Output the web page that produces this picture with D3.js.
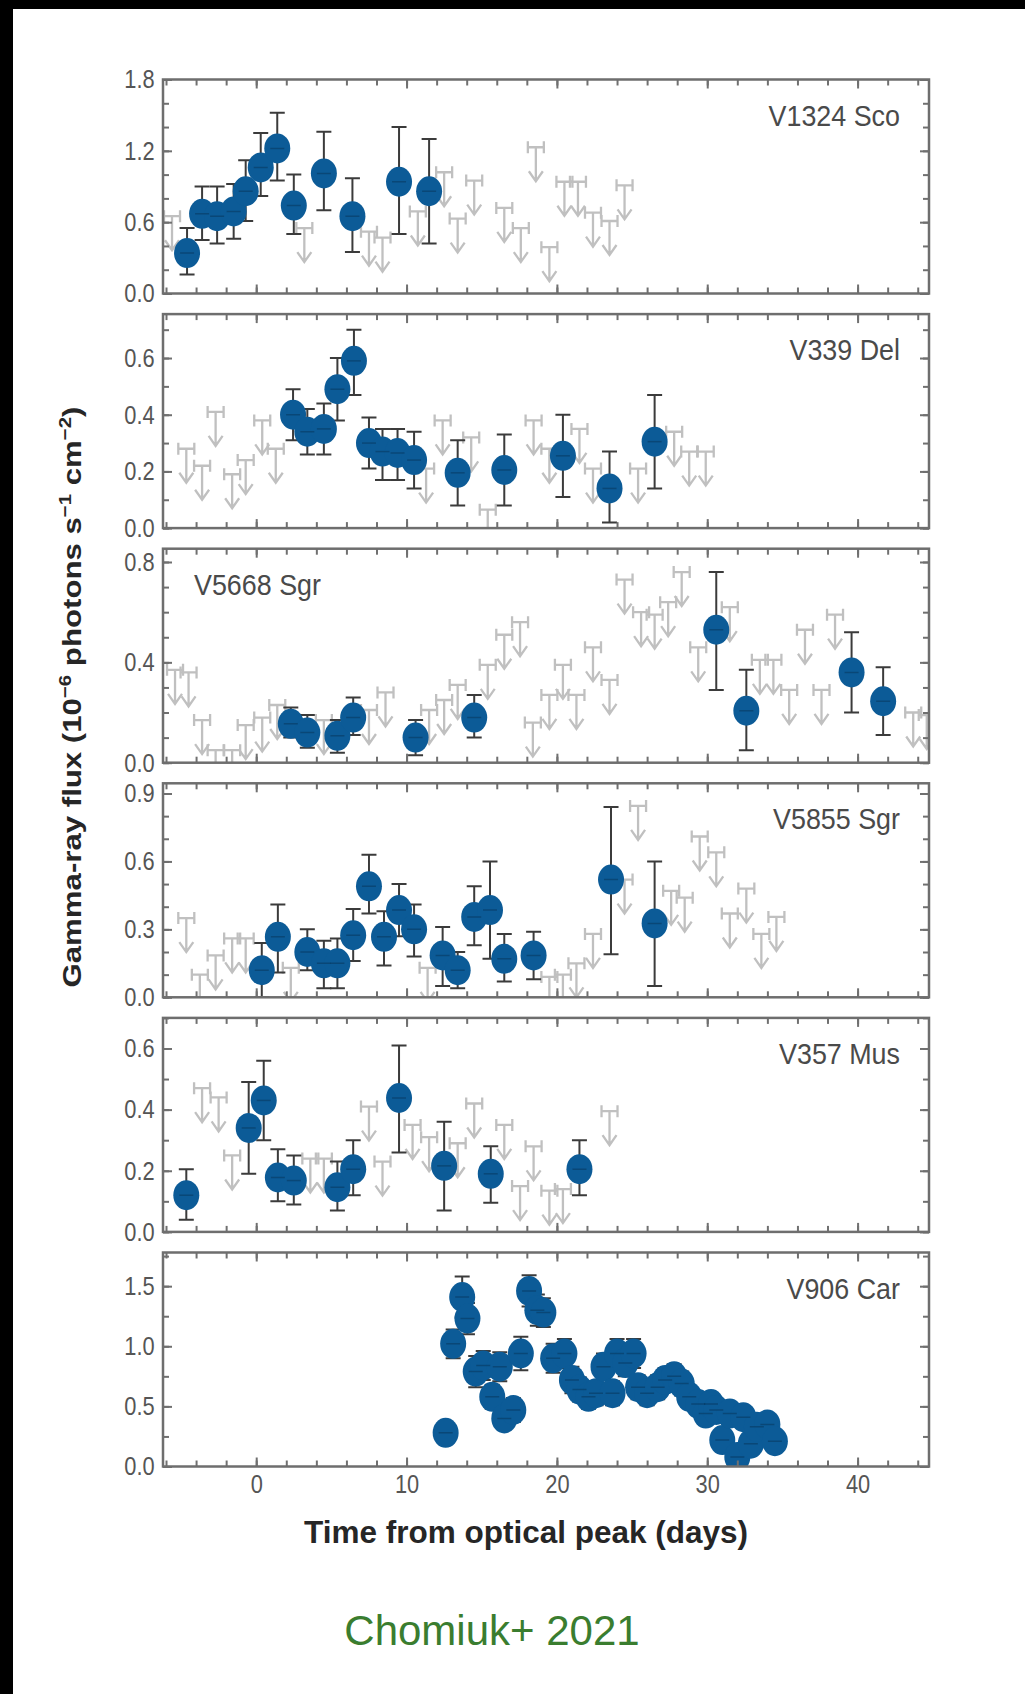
<!DOCTYPE html>
<html lang="en">
<head>
<meta charset="UTF-8" />
<title>Gamma-ray light curves of novae</title>
<script src="https://cdn.jsdelivr.net/npm/d3@7"></script>
<style>
  html, body { margin: 0; padding: 0; background: #fff; }
  svg { display: block; }
  .tick text {
    font-family: "Liberation Sans", Arial, sans-serif;
    font-size: 26px;
    fill: #555;
  }
  .tick line { stroke: #707070; stroke-width: 2; }
  .star-label {
    font-family: "Liberation Sans", Arial, sans-serif;
    font-size: 28px;
    fill: #4a4a4a;
  }
</style>
</head>
<body>
<svg id="chart" width="1025" height="1694"></svg>
<script>
// ---- data (days from optical peak, flux in 1e-6 photons/s/cm^2) ----
const starNames = ["V1324 Sco", "V339 Del", "V5668 Sgr", "V5855 Sgr", "V357 Mus", "V906 Car"];

// V1324 Sco
const scoDays = [-4.6, -3.6, -2.6, -1.5, -0.7, 0.3, 1.4, 2.5, 4.5, 6.4, 9.5, 11.5];
const scoFlux = [0.34, 0.67, 0.65, 0.69, 0.86, 1.06, 1.22, 0.74, 1.01, 0.65, 0.94, 0.86];
const scoLo   = [0.16, 0.45, 0.42, 0.46, 0.61, 0.82, 0.95, 0.50, 0.70, 0.35, 0.50, 0.42];
const scoHi   = [0.55, 0.90, 0.90, 0.92, 1.12, 1.35, 1.52, 1.00, 1.36, 0.97, 1.40, 1.30];
const scoLimDays = [-5.6, 3.2, 7.5, 8.4, 10.75, 12.5, 13.4, 14.5, 16.5, 17.6, 18.6, 19.5, 20.5, 21.4, 22.4, 23.5, 24.5];
const scoLimVals = [0.65, 0.55, 0.52, 0.47, 0.69, 1.02, 0.63, 0.95, 0.72, 0.55, 1.23, 0.39, 0.94, 0.94, 0.68, 0.61, 0.91];

// V339 Del
const delDays = [2.45, 3.4, 4.5, 5.4, 6.5, 7.5, 8.4, 9.4, 10.5, 13.4, 16.5, 20.4, 23.5, 26.5];
const delFlux = [0.40, 0.34, 0.35, 0.49, 0.59, 0.30, 0.27, 0.265, 0.24, 0.195, 0.205, 0.255, 0.14, 0.305];
const delLo   = [0.31, 0.26, 0.26, 0.38, 0.47, 0.21, 0.17, 0.17, 0.14, 0.08, 0.08, 0.11, 0.02, 0.14];
const delHi   = [0.49, 0.42, 0.44, 0.60, 0.70, 0.39, 0.35, 0.35, 0.34, 0.31, 0.33, 0.40, 0.27, 0.47];
const delLimDays = [-4.65, -3.6, -2.7, -1.6, -0.7, 0.4, 1.3, 11.3, 12.4, 14.3, 15.4, 18.45, 19.5, 21.5, 22.4, 25.4, 27.8, 28.8, 29.9];
const delLimVals = [0.28, 0.22, 0.41, 0.19, 0.24, 0.38, 0.28, 0.21, 0.38, 0.32, 0.065, 0.38, 0.28, 0.35, 0.21, 0.21, 0.34, 0.27, 0.27];

// V5668 Sgr
const sgr1Days = [2.3, 3.4, 5.4, 6.45, 10.6, 14.5, 30.6, 32.6, 39.6, 41.7];
const sgr1Flux = [0.155, 0.12, 0.107, 0.18, 0.10, 0.18, 0.53, 0.207, 0.36, 0.245];
const sgr1Lo   = [0.10, 0.06, 0.04, 0.11, 0.03, 0.10, 0.29, 0.05, 0.20, 0.11];
const sgr1Hi   = [0.22, 0.19, 0.17, 0.26, 0.17, 0.27, 0.76, 0.37, 0.52, 0.38];
const sgr1LimDays = [-5.4, -4.5, -3.6, -2.7, -1.6, -0.7, 0.4, 1.4, 4.5, 7.5, 8.6, 11.5, 12.5, 13.4, 15.4, 16.5, 17.55,
                     18.4, 19.5, 20.4, 21.3, 22.4, 23.5, 24.5, 25.6, 26.5, 27.4, 28.3, 29.4, 31.5, 33.5, 34.4, 35.45,
                     36.5, 37.6, 38.5, 43.7, 44.6];
const sgr1LimVals = [0.37, 0.36, 0.17, 0.05, 0.05, 0.15, 0.18, 0.23, 0.17, 0.21, 0.28, 0.21, 0.25, 0.31, 0.39, 0.51, 0.56,
                     0.16, 0.27, 0.39, 0.27, 0.46, 0.33, 0.73, 0.60, 0.59, 0.64, 0.76, 0.46, 0.62, 0.41, 0.41, 0.29,
                     0.53, 0.29, 0.59, 0.20, 0.19];

// V5855 Sgr
const sgr2Days = [0.37, 1.44, 3.4, 4.5, 5.4, 6.45, 7.5, 8.5, 9.5, 10.5, 12.4, 13.4, 14.5, 15.55, 16.5, 18.45, 23.6, 26.5];
const sgr2Flux = [0.12, 0.267, 0.20, 0.15, 0.15, 0.274, 0.49, 0.267, 0.385, 0.30, 0.185, 0.12, 0.355, 0.385, 0.17, 0.185, 0.52, 0.326];
const sgr2Lo   = [0.0, 0.11, 0.12, 0.04, 0.04, 0.16, 0.37, 0.14, 0.27, 0.18, 0.05, 0.04, 0.23, 0.17, 0.07, 0.08, 0.19, 0.05];
const sgr2Hi   = [0.24, 0.41, 0.30, 0.25, 0.26, 0.39, 0.63, 0.38, 0.50, 0.41, 0.31, 0.20, 0.49, 0.60, 0.28, 0.29, 0.84, 0.60];
const sgr2LimDays = [-4.65, -3.75, -2.7, -1.6, -0.7, 2.3, 11.4, 19.5, 20.4, 21.3, 22.4, 24.5, 25.4, 27.6, 28.5, 29.5, 30.6, 31.5, 32.6, 33.6, 34.6];
const sgr2LimVals = [0.35, 0.10, 0.185, 0.26, 0.26, 0.13, 0.13, 0.09, 0.10, 0.15, 0.28, 0.52, 0.845, 0.47, 0.44, 0.71, 0.64, 0.37, 0.48, 0.28, 0.355];

// V357 Mus
const musDays = [-4.65, -0.5, 0.5, 1.44, 2.5, 5.4, 6.45, 9.5, 12.5, 15.6, 21.5];
const musFlux = [0.12, 0.34, 0.43, 0.178, 0.168, 0.146, 0.205, 0.438, 0.216, 0.19, 0.205];
const musLo   = [0.04, 0.19, 0.30, 0.10, 0.09, 0.07, 0.12, 0.26, 0.07, 0.095, 0.12];
const musHi   = [0.205, 0.49, 0.56, 0.27, 0.25, 0.23, 0.30, 0.61, 0.36, 0.28, 0.30];
const musLimDays = [-3.6, -2.5, -1.6, 3.6, 4.5, 7.5, 8.4, 10.4, 11.5, 13.4, 14.5, 16.5, 17.55, 18.45, 19.5, 20.4, 23.5];
const musLimVals = [0.47, 0.44, 0.25, 0.24, 0.24, 0.41, 0.23, 0.35, 0.31, 0.29, 0.42, 0.35, 0.15, 0.28, 0.135, 0.14, 0.395];

// V906 Car (symmetric errors)
const carDays = [12.6, 13.1, 13.7, 14.05, 14.6, 15.1, 15.7, 16.2, 16.5, 17.1, 17.6, 18.15, 18.7, 19.1, 19.75,
                 20.5, 21.0, 21.5, 22.1, 22.6, 23.1, 23.7, 24.0, 24.55, 25.1, 25.4, 26.0, 26.7, 27.2, 27.8,
                 28.3, 28.8, 29.4, 29.9, 30.25, 30.6, 31.0, 31.5, 32.0, 32.4, 32.9, 33.3, 34.0, 34.5];
const carFlux = [0.28, 1.02, 1.41, 1.23, 0.79, 0.84, 0.58, 0.83, 0.40, 0.47, 0.94, 1.46, 1.30, 1.28, 0.90,
                 0.94, 0.72, 0.64, 0.58, 0.61, 0.83, 0.61, 0.94, 0.86, 0.94, 0.66, 0.61, 0.66, 0.72, 0.75,
                 0.69, 0.58, 0.52, 0.44, 0.52, 0.47, 0.22, 0.44, 0.08, 0.41, 0.19, 0.33, 0.35, 0.21];
const carErr  = [0.09, 0.12, 0.17, 0.13, 0.13, 0.12, 0.10, 0.12, 0.09, 0.10, 0.14, 0.13, 0.13, 0.12, 0.12,
                 0.12, 0.11, 0.10, 0.10, 0.10, 0.11, 0.10, 0.12, 0.11, 0.12, 0.10, 0.10, 0.10, 0.10, 0.10,
                 0.10, 0.09, 0.09, 0.09, 0.09, 0.09, 0.08, 0.09, 0.07, 0.09, 0.08, 0.08, 0.08, 0.07];

// axes
const xDomain = [-6.2, 44.75];
const xTickLabels = [0, 10, 20, 30, 40];
const yMaxes = [1.8, 0.755, 0.853, 0.945, 0.70, 1.78];
const yTickLabels = [[0, 0.6, 1.2, 1.8], [0, 0.2, 0.4, 0.6], [0, 0.4, 0.8], [0, 0.3, 0.6, 0.9], [0, 0.2, 0.4, 0.6], [0, 0.5, 1.0, 1.5]];
const yMinorSteps = [0.2, 0.1, 0.1, 0.1, 0.1, 0.25];
const labelOnLeft = [false, false, true, false, false, false];

// ---- build per panel lists ----
const zipDet = (days, flux, lo, hi) => days.map((d, i) => ({day: d, flux: flux[i], lo: lo[i], hi: hi[i]}));
const zipLim = (days, vals) => days.map((d, i) => ({day: d, val: vals[i]}));

const panels = [
  {det: zipDet(scoDays, scoFlux, scoLo, scoHi), lim: zipLim(scoLimDays, scoLimVals)},
  {det: zipDet(delDays, delFlux, delLo, delHi), lim: zipLim(delLimDays, delLimVals)},
  {det: zipDet(sgr1Days, sgr1Flux, sgr1Lo, sgr1Hi), lim: zipLim(sgr1LimDays, sgr1LimVals)},
  {det: zipDet(sgr2Days, sgr2Flux, sgr2Lo, sgr2Hi), lim: zipLim(sgr2LimDays, sgr2LimVals)},
  {det: zipDet(musDays, musFlux, musLo, musHi), lim: zipLim(musLimDays, musLimVals)},
  {det: carDays.map((d, i) => ({day: d, flux: carFlux[i], lo: carFlux[i] - carErr[i], hi: carFlux[i] + carErr[i]})), lim: []}
];

// ---- layout ----
const W = 1025, H = 1694;
const left = 163, right = 929, top0 = 79.5, step = 234.6, ph = 214;
const blue = "#0c5b97", limGray = "#c0c0c0", errColor = "#3b3b3b";
const squeeze = "scale(0.84,1)";   // tick labels in the figure are a condensed face

const svg = d3.select("#chart");
svg.append("rect").attr("width", W).attr("height", H).attr("fill", "#fff");
svg.append("rect").attr("width", W).attr("height", 9).attr("fill", "#000");
svg.append("rect").attr("width", 13).attr("height", H).attr("fill", "#000");

const x = d3.scaleLinear().domain(xDomain).range([left, right]);
const xMinor = d3.range(-6, 45, 2);

function stripDomain(sel) { sel.select(".domain").remove(); }

panels.forEach((p, i) => {
  const t = top0 + i * step;
  const y = d3.scaleLinear().domain([0, yMaxes[i]]).range([t + ph, t]);
  const g = svg.append("g");

  g.append("clipPath").attr("id", "clip" + i)
    .append("rect").attr("x", left).attr("y", t).attr("width", right - left).attr("height", ph);
  const plot = g.append("g").attr("clip-path", `url(#clip${i})`);

  // upper limits: bin bar with end caps plus downward arrow
  const hw = 8, cap = 6, len = 34;
  plot.selectAll("path.lim").data(p.lim).join("path")
    .attr("class", "lim")
    .attr("d", d => {
      const cx = x(d.day), cy = y(d.val);
      return `M${cx - hw},${cy}H${cx + hw}` +
        `M${cx - hw},${cy - cap}V${cy + cap}M${cx + hw},${cy - cap}V${cy + cap}` +
        `M${cx},${cy}V${cy + len}` +
        `M${cx - 7},${cy + len - 10}L${cx},${cy + len}L${cx + 7},${cy + len - 10}`;
    })
    .attr("fill", "none").attr("stroke", limGray).attr("stroke-width", 2.3);

  // detection error bars
  plot.selectAll("path.err").data(p.det).join("path")
    .attr("class", "err")
    .attr("d", d => {
      const cx = x(d.day), y0 = y(d.lo), y1 = y(d.hi);
      return `M${cx},${y0}V${y1}M${cx - 7.5},${y0}H${cx + 7.5}M${cx - 7.5},${y1}H${cx + 7.5}`;
    })
    .attr("fill", "none").attr("stroke", errColor).attr("stroke-width", 2);

  plot.selectAll("ellipse").data(p.det).join("ellipse")
    .attr("cx", d => x(d.day)).attr("cy", d => y(d.flux))
    .attr("rx", 13).attr("ry", 15)
    .attr("fill", blue);

  plot.selectAll("line.bin").data(p.det).join("line")
    .attr("class", "bin")
    .attr("x1", d => x(d.day) - 7).attr("x2", d => x(d.day) + 7)
    .attr("y1", d => y(d.flux)).attr("y2", d => y(d.flux))
    .attr("stroke", "#062b48").attr("stroke-opacity", 0.4).attr("stroke-width", 1.5);

  // y minor ticks
  const n = Math.round(yMaxes[i] / yMinorSteps[i]);
  const yMinor = d3.range(0, n + 1).map(k => +(k * yMinorSteps[i]).toFixed(3)).filter(v => v <= yMaxes[i]);

  g.append("g").attr("transform", `translate(${left},0)`)
    .call(d3.axisLeft(y).tickValues(yTickLabels[i]).tickSize(-9).tickPadding(10).tickFormat(d3.format(".1f")))
    .call(stripDomain)
    .call(a => a.selectAll("text").attr("transform", squeeze));
  g.append("g").attr("transform", `translate(${left},0)`)
    .call(d3.axisLeft(y).tickValues(yMinor).tickSize(-6).tickFormat(""))
    .call(stripDomain);
  g.append("g").attr("transform", `translate(${right},0)`)
    .call(d3.axisRight(y).tickValues(yTickLabels[i]).tickSize(-9).tickFormat(""))
    .call(stripDomain);
  g.append("g").attr("transform", `translate(${right},0)`)
    .call(d3.axisRight(y).tickValues(yMinor).tickSize(-6).tickFormat(""))
    .call(stripDomain);

  // x ticks top and bottom
  g.append("g").attr("transform", `translate(0,${t})`)
    .call(d3.axisTop(x).tickValues(xTickLabels).tickSize(-9).tickFormat(""))
    .call(stripDomain);
  g.append("g").attr("transform", `translate(0,${t})`)
    .call(d3.axisTop(x).tickValues(xMinor).tickSize(-6).tickFormat(""))
    .call(stripDomain);
  const isLast = i === panels.length - 1;
  g.append("g").attr("transform", `translate(0,${t + ph})`)
    .call(d3.axisBottom(x).tickValues(xTickLabels).tickSize(-9).tickPadding(8)
      .tickFormat(isLast ? d3.format("d") : ""))
    .call(stripDomain)
    .call(a => a.selectAll("text").attr("transform", squeeze));
  g.append("g").attr("transform", `translate(0,${t + ph})`)
    .call(d3.axisBottom(x).tickValues(xMinor).tickSize(-6).tickFormat(""))
    .call(stripDomain);

  g.append("rect")
    .attr("x", left).attr("y", t).attr("width", right - left).attr("height", ph)
    .attr("fill", "none").attr("stroke", "#6e6e6e").attr("stroke-width", 2.5);

  // star name, condensed like the figure
  const lx = labelOnLeft[i] ? 194 : 900;
  g.append("text")
    .attr("class", "star-label")
    .attr("transform", `translate(${lx},${t + 46}) scale(0.96,1.05)`)
    .attr("text-anchor", labelOnLeft[i] ? "start" : "end")
    .text(starNames[i]);
});

// axis titles
const yTitle = svg.append("text")
  .attr("transform", "translate(81,697) rotate(-90) scale(1.2,1)")
  .attr("text-anchor", "middle")
  .attr("font-family", "'Liberation Sans', Arial, sans-serif")
  .attr("font-weight", "bold")
  .attr("font-size", 26)
  .attr("fill", "#262626");
yTitle.append("tspan").text("Gamma-ray flux (10");
yTitle.append("tspan").attr("dy", -10).attr("font-size", 17).text("\u22126");
yTitle.append("tspan").attr("dy", 10).text(" photons s");
yTitle.append("tspan").attr("dy", -10).attr("font-size", 17).text("\u22121");
yTitle.append("tspan").attr("dy", 10).text(" cm");
yTitle.append("tspan").attr("dy", -10).attr("font-size", 17).text("\u22122");
yTitle.append("tspan").attr("dy", 10).text(")");

svg.append("text")
  .attr("x", 526).attr("y", 1543)
  .attr("text-anchor", "middle")
  .attr("font-family", "'Liberation Sans', Arial, sans-serif")
  .attr("font-weight", "bold")
  .attr("font-size", 31.5)
  .attr("fill", "#262626")
  .text("Time from optical peak (days)");

svg.append("text")
  .attr("x", 492).attr("y", 1645)
  .attr("text-anchor", "middle")
  .attr("font-family", "'Liberation Sans', Arial, sans-serif")
  .attr("font-size", 42)
  .attr("fill", "#3a7d2f")
  .text("Chomiuk+ 2021");
</script>
</body>
</html>
